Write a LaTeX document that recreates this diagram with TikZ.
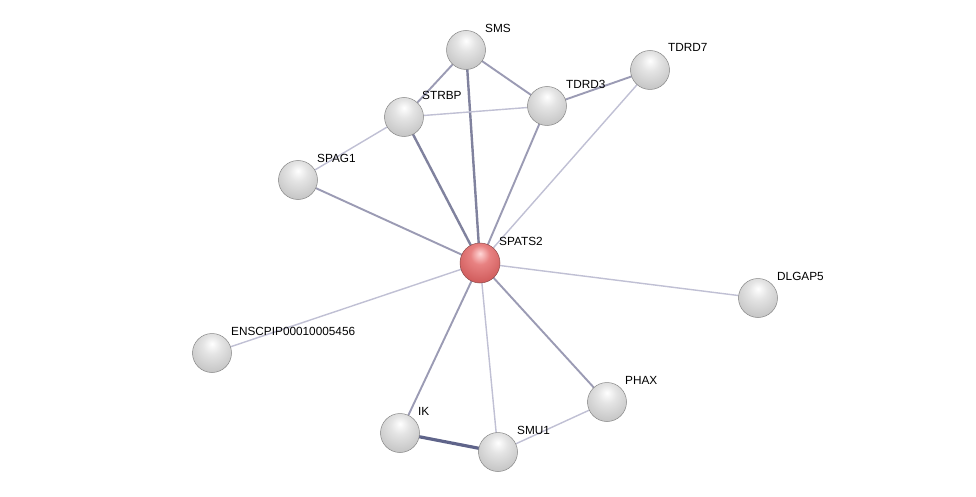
\documentclass[tikz,border=0pt]{standalone}
\usepackage{fontspec}
\setmainfont{Liberation Sans}
\definecolor{gA}{RGB}{255,255,255}
\definecolor{gB}{RGB}{228,228,228}
\definecolor{gC}{RGB}{200,200,200}
\definecolor{gD}{RGB}{165,165,165}
\definecolor{gE}{RGB}{105,105,105}
\definecolor{rA}{RGB}{255,215,215}
\definecolor{rB}{RGB}{232,130,130}
\definecolor{rC}{RGB}{210,95,95}
\definecolor{rD}{RGB}{175,60,60}
\definecolor{rE}{RGB}{115,30,30}
\definecolor{cthin}{RGB}{192,192,212}
\definecolor{cmid}{RGB}{155,155,180}
\definecolor{cdark}{RGB}{128,130,158}
\definecolor{cheavy}{RGB}{95,100,138}
\pgfdeclareradialshading{grayball}{\pgfpoint{0bp}{12bp}}{color(0bp)=(gA); color(12bp)=(gB); color(30bp)=(gC); color(44bp)=(gD); color(56bp)=(gE); color(80bp)=(gE)}
\pgfdeclareradialshading{redball}{\pgfpoint{0bp}{12bp}}{color(0bp)=(rA); color(12bp)=(rB); color(30bp)=(rC); color(44bp)=(rD); color(56bp)=(rE); color(80bp)=(rE)}
\begin{document}
\begin{tikzpicture}[x=1pt,y=-1pt,
  prot/.style={circle,minimum size=39pt,inner sep=0pt,shading=grayball,draw=gE!80,line width=0.5pt},
  hub/.style={circle,minimum size=40pt,inner sep=0pt,shading=redball,draw=rE!80,line width=0.5pt},
  lbl/.style={anchor=west,font=\fontsize{11.8pt}{13pt}\selectfont,inner sep=1pt,text=black},
  ethin/.style={draw=cthin,line width=1.4pt},
  emid/.style={draw=cmid,line width=1.9pt},
  edark/.style={draw=cdark,line width=2.4pt},
  eheavy/.style={draw=cheavy,line width=3.2pt}]
\useasboundingbox (0,0) rectangle (976,497);
\fill[white] (0,0) rectangle (976,497);
\coordinate (pSP) at (480,263);
\coordinate (pSMS) at (466,50);
\coordinate (pTD3) at (547,106);
\coordinate (pTD7) at (650,70);
\coordinate (pSTR) at (404,117);
\coordinate (pSPG) at (298,180);
\coordinate (pDLG) at (758,298);
\coordinate (pENS) at (212,353);
\coordinate (pPHX) at (607,402);
\coordinate (pIK) at (400,433);
\coordinate (pSMU) at (498,452);
% edges
\draw[edark] (pSP) -- (pSMS);
\draw[edark] (pSP) -- (pSTR);
\draw[emid] (pSP) -- (pTD3);
\draw[ethin] (pSP) -- (pTD7);
\draw[emid] (pSP) -- (pSPG);
\draw[ethin] (pSP) -- (pDLG);
\draw[ethin] (pSP) -- (pENS);
\draw[emid] (pSP) -- (pPHX);
\draw[emid] (pSP) -- (pIK);
\draw[ethin] (pSP) -- (pSMU);
\draw[emid] (pSMS) -- (pSTR);
\draw[emid] (pSMS) -- (pTD3);
\draw[ethin] (pSTR) -- (pTD3);
\draw[emid] (pTD3) -- (pTD7);
\draw[ethin] (pSTR) -- (pSPG);
\draw[eheavy] (pIK) -- (pSMU);
\draw[ethin] (pSMU) -- (pPHX);
% balls
\node[hub] (SP) at (pSP) {};
\node[prot] (SMS) at (pSMS) {};
\node[prot] (TD3) at (pTD3) {};
\node[prot] (TD7) at (pTD7) {};
\node[prot] (STR) at (pSTR) {};
\node[prot] (SPG) at (pSPG) {};
\node[prot] (DLG) at (pDLG) {};
\node[prot] (ENS) at (pENS) {};
\node[prot] (PHX) at (pPHX) {};
\node[prot] (IK) at (pIK) {};
\node[prot] (SMU) at (pSMU) {};
% labels
\node[lbl] (lSP) at (498,241) {SPATS2};
\node[lbl] (lSMS) at (484,28) {SMS};
\node[lbl] (lTD3) at (565,84) {TDRD3};
\node[lbl] (lTD7) at (667,47) {TDRD7};
\node[lbl] (lSTR) at (421,95) {STRBP};
\node[lbl] (lSPG) at (316,158) {SPAG1};
\node[lbl] (lDLG) at (776,276) {DLGAP5};
\node[lbl] (lENS) at (230,331) {ENSCPIP00010005456};
\node[lbl] (lPHX) at (624,380) {PHAX};
\node[lbl] (lIK) at (417,411) {IK};
\node[lbl] (lSMU) at (516,430) {SMU1};
\end{tikzpicture}
\end{document}
